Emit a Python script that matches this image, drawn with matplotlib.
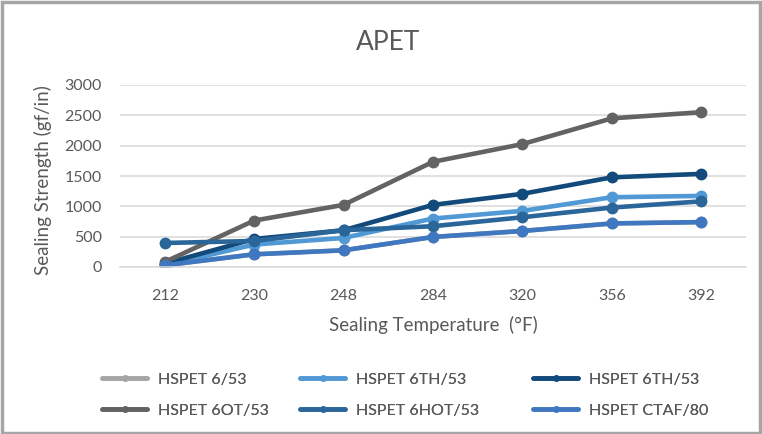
import matplotlib.pyplot as plt
from matplotlib.patches import Rectangle

plt.rcParams['font.family'] = ['Lato', 'DejaVu Sans']

temps = ["212", "230", "248", "284", "320", "356", "392"]

hspet_6_53 = [28, 209, 275, 495, 594, 718, 740]
hspet_6th_53_light = [28, 370, 479, 799, 925, 1150, 1172]
hspet_6th_53_dark = [55, 462, 606, 1024, 1206, 1478, 1535]
hspet_6ot_53 = [83, 765, 1024, 1734, 2026, 2450, 2552]
hspet_6hot_53 = [396, 429, 606, 672, 820, 980, 1082]
hspet_ctaf_80 = [28, 209, 275, 495, 594, 718, 740]

names = ["HSPET 6/53", "HSPET 6TH/53", "HSPET 6TH/53",
         "HSPET 6OT/53", "HSPET 6HOT/53", "HSPET CTAF/80"]
series = [hspet_6_53, hspet_6th_53_light, hspet_6th_53_dark,
          hspet_6ot_53, hspet_6hot_53, hspet_ctaf_80]
colores = ["#A5A5A5", "#5199D4", "#124A7C", "#636363", "#2A6699", "#3F77C0"]

txt = "#595959"

fig = plt.figure(figsize=(7.62, 4.34), dpi=100)
ax = fig.add_axes([120 / 762, 1 - 267 / 434, 626 / 762, 182 / 434])

x = range(len(temps))
lineas = []
for nombre, vals, c in zip(names, series, colores):
    l, = ax.plot(x, vals, color=c, lw=3.3, marker="o", ms=7.5,
                 solid_capstyle="round", label=nombre)
    lineas.append(l)

ax.set_xlim(-0.5, len(temps) - 0.5)
ax.set_ylim(0, 3000)
ax.set_yticks(range(0, 3001, 500))
ax.set_xticks(list(x))
ax.set_xticklabels(temps)
ax.grid(axis="y", color="#D9D9D9", lw=1.1)
ax.set_axisbelow(True)
for s in ["top", "right", "left"]:
    ax.spines[s].set_visible(False)
ax.spines["bottom"].set_color("#D9D9D9")
ax.spines["bottom"].set_linewidth(1.1)
ax.tick_params(axis="both", length=0, labelsize=11.5, labelcolor=txt)
ax.tick_params(axis="y", pad=13)
ax.tick_params(axis="x", pad=16)

ax.set_xlabel("Sealing Temperature  (°F)", fontsize=13.5, color=txt, labelpad=9)
fig.text(43 / 762, 1 - 180 / 434, "Sealing Strength (gf/in)", fontsize=13.5,
         color=txt, rotation=90, ha="center", va="center")
fig.text(388 / 762, 1 - 43 / 434, "APET", fontsize=19, color=txt,
         ha="center", va="center")

# leyenda: tres columnas de dos filas
col_x = [97, 295, 528]
for k in range(3):
    hs = [lineas[k], lineas[k + 3]]
    leg = fig.legend(hs, [names[k], names[k + 3]], loc="center left",
                     bbox_to_anchor=(col_x[k] / 762 - 0.012, 1 - 395 / 434),
                     frameon=False, fontsize=11.5, labelcolor=txt,
                     handlelength=2.8, markerscale=0.5,
                     handletextpad=0.7, labelspacing=1.05)
    fig.add_artist(leg)

fig.add_artist(Rectangle((0.002, 0.002), 0.996, 0.994, transform=fig.transFigure,
                         fill=False, edgecolor="#A6A6A6", lw=2.5))

fig.savefig("out.png", dpi=100)
